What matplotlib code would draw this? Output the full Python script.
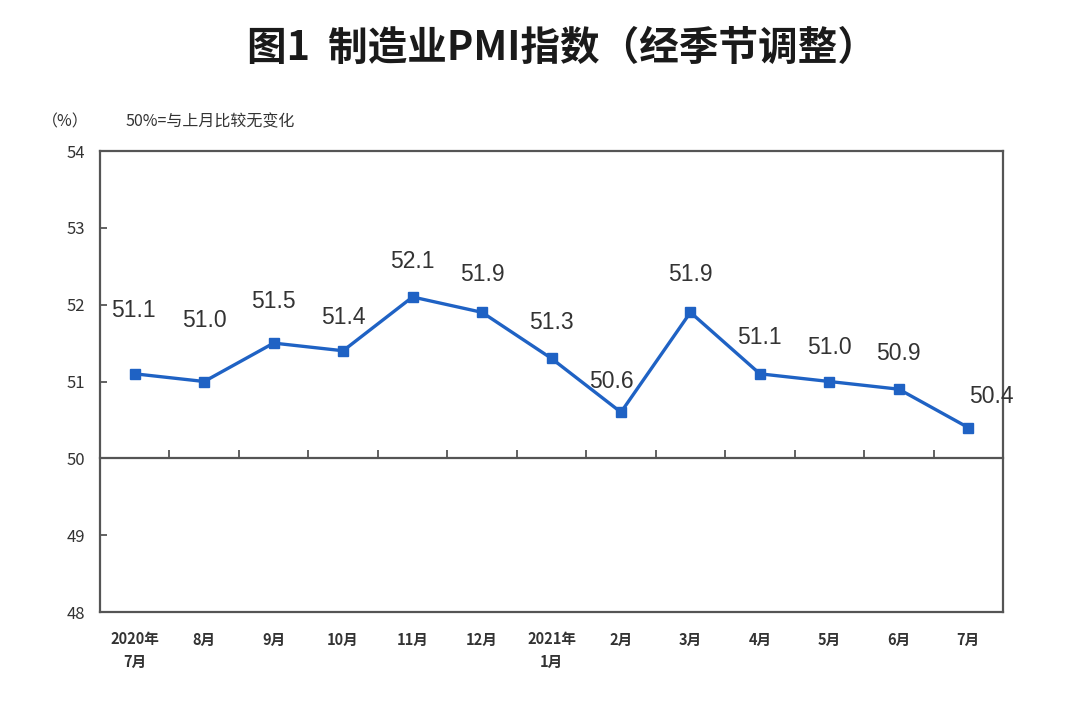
import matplotlib
matplotlib.use("Agg")
import matplotlib.pyplot as plt

plt.rcParams['font.family'] = ['Noto Sans CJK SC', 'DejaVu Sans']

# data
months = ["2020年\n7月", "8月", "9月", "10月", "11月", "12月", "2021年\n1月",
          "2月", "3月", "4月", "5月", "6月", "7月"]
pmi = [51.1, 51.0, 51.5, 51.4, 52.1, 51.9, 51.3, 50.6, 51.9, 51.1, 51.0, 50.9, 50.4]

# label offsets in pixels (dx, dy) relative to each point
label_offsets = [(-1, 63), (0, 61), (0, 42), (0, 33), (0, 35), (0, 38), (0, 36),
                 (-10, 31), (0, 38), (0, 36), (0, 34), (0, 36), (23, 31)]

line_color = '#1f62c4'
frame_color = '#555555'
text_color = '#333333'

fig = plt.figure(figsize=(10.84, 7.14), dpi=100)
ax = fig.add_axes([100/1084, 1 - 612/714, 903/1084, 461/714])

x = list(range(len(months)))
ax.plot(x, pmi, color=line_color, lw=2.4, marker='s', markersize=6.5,
        markerfacecolor=line_color, markeredgecolor=line_color)

for i, v in enumerate(pmi):
    dx, dy = label_offsets[i]
    ax.annotate(f"{v:.1f}", (i, v), xytext=(dx, dy), textcoords='offset pixels',
                ha='center', va='center', fontsize=16.5, color=text_color,
                family=['Liberation Sans', 'DejaVu Sans'])

ax.set_xlim(-0.5, len(months) - 0.5)
ax.set_ylim(48, 54)
ax.set_yticks(range(48, 55))
ax.set_xticks(x)
ax.set_xticklabels(months, fontsize=10.5, fontweight='bold', color=text_color,
                   linespacing=1.5, va='top')
ax.tick_params(axis='x', length=0, pad=14)
ax.tick_params(axis='y', direction='in', length=5, width=1.3, color=frame_color,
               labelsize=12, labelcolor=text_color, pad=11)
for s in ax.spines.values():
    s.set_color(frame_color)
    s.set_linewidth(1.6)

# 50 line with boundary ticks
sec = ax.secondary_xaxis((50 - 48) / 6)
sec.set_xticks([i + 0.5 for i in x[:-1]])
sec.set_xticklabels([])
sec.tick_params(direction='in', length=6, width=1.3, color=frame_color)
sec.spines['bottom'].set_color(frame_color)
sec.spines['bottom'].set_linewidth(1.6)

fig.text(562/1084, 1 - 48/714, "图1  制造业PMI指数（经季节调整）", ha='center', va='center',
         fontsize=28.5, fontweight='bold', color='#1a1a1a')
fig.text(42/1084, 1 - 122/714, "（%）", ha='left', va='center', fontsize=11.5,
         color=text_color)
fig.text(125/1084, 1 - 122/714, "50%=与上月比较无变化", ha='left', va='center',
         fontsize=11.5, color=text_color)

fig.savefig("out.png", dpi=100)
